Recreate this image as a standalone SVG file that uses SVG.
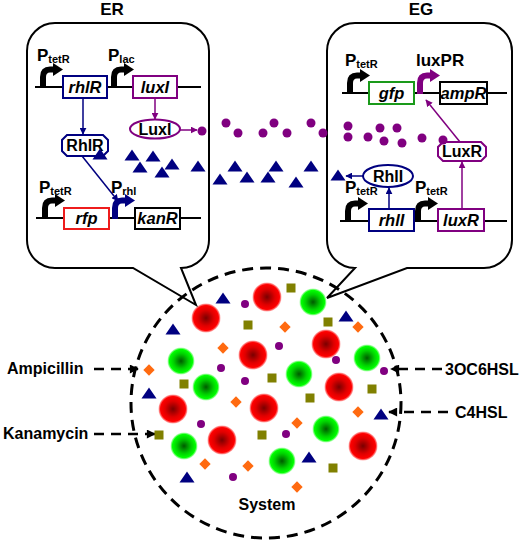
<svg xmlns="http://www.w3.org/2000/svg" width="525" height="544" viewBox="0 0 525 544">
<defs>
<style>
text{font-family:"Liberation Sans",Arial,sans-serif;font-weight:bold;fill:#000}
.gene{font-style:italic;font-size:16.5px;text-anchor:middle}
.prot{font-size:16px;text-anchor:middle}
.ttl{font-size:17px;text-anchor:middle}
.lbl{font-size:16px}
.p{font-size:17px}
.sub{font-size:11px}
.frame{fill:none;stroke:#000;stroke-width:2}
.dna{stroke:#000;stroke-width:2;fill:none}
.box{fill:#fff;stroke-width:2}
.nv{stroke:#000080}
.pu{stroke:#800080}
.rd{stroke:#ee1c1c}
.gn{stroke:#1a9a1a}
.bk{stroke:#000}
.arN{stroke:#000080;stroke-width:1.5;fill:none;marker-end:url(#aN)}
.arP{stroke:#800080;stroke-width:1.5;fill:none;marker-end:url(#aP)}
.dash{stroke:#000;stroke-width:2.5;fill:none;stroke-dasharray:10 7;marker-end:url(#aK)}
.dot{fill:#800080}
.tri{fill:#000080}
.sq{fill:#808000}
.dm{fill:#ff6a10}
.red{fill:url(#gR)}
.grn{fill:url(#gG)}
</style>
<radialGradient id="gR">
<stop offset="0" stop-color="#7a0000"/>
<stop offset="0.55" stop-color="#e00000"/>
<stop offset="0.86" stop-color="#ff0000"/>
<stop offset="1" stop-color="#ff2020" stop-opacity="0.35"/>
</radialGradient>
<radialGradient id="gG">
<stop offset="0" stop-color="#005a00"/>
<stop offset="0.55" stop-color="#00d000"/>
<stop offset="0.86" stop-color="#00ff00"/>
<stop offset="1" stop-color="#40ff40" stop-opacity="0.35"/>
</radialGradient>
<marker id="aN" viewBox="0 0 10 10" refX="9" refY="5" markerWidth="7" markerHeight="7" orient="auto" markerUnits="userSpaceOnUse"><path d="M0,0 L10,5 L0,10 Z" fill="#000080"/></marker>
<marker id="aP" viewBox="0 0 10 10" refX="9" refY="5" markerWidth="7" markerHeight="7" orient="auto" markerUnits="userSpaceOnUse"><path d="M0,0 L10,5 L0,10 Z" fill="#800080"/></marker>
<marker id="aK" viewBox="0 0 10 10" refX="9" refY="5" markerWidth="10" markerHeight="9" orient="auto" markerUnits="userSpaceOnUse"><path d="M0,0 L10,5 L0,10 Z" fill="#000"/></marker>
<g id="prom">
<path d="M3,1 V-10 Q3,-17.5 10,-17.5 H14" fill="none" stroke="currentColor" stroke-width="6"/>
<path d="M13,-24 L23,-17.5 L13,-11 Z" fill="currentColor"/>
</g>
<path id="tr" d="M-7.5,5.5 L0,-5.5 L7.5,5.5 Z"/>
<rect id="sqr" x="-4.5" y="-4.5" width="9" height="9"/>
<rect id="dia" x="-4" y="-4" width="8" height="8" transform="rotate(45)"/>
</defs>

<g id="ER">
<path class="frame" d="M55,23 H181 A28,28 0 0 1 209,51 V240 A28,28 0 0 1 181,268 L196,305 L133,268 H55 A28,28 0 0 1 27,240 V51 A28,28 0 0 1 55,23 Z"/>
<text class="ttl" x="112" y="15">ER</text>
<line class="dna" x1="35" y1="87" x2="201" y2="87"/>
<line class="dna" x1="36" y1="218" x2="201" y2="218"/>
<g id="ER-PtetR-1"><use href="#prom" x="40" y="87" style="color:#000"/><text class="p" x="37" y="61">P<tspan class="sub" dy="2">tetR</tspan></text></g>
<g id="ER-Plac"><use href="#prom" x="111" y="87" style="color:#000"/><text class="p" x="108" y="61">P<tspan class="sub" dy="2">lac</tspan></text></g>
<g id="ER-PtetR-2"><use href="#prom" x="42" y="218" style="color:#000"/><text class="p" x="39" y="193">P<tspan class="sub" dy="2">tetR</tspan></text></g>
<g id="ER-Prhl"><use href="#prom" x="112" y="218" style="color:#000080"/><text class="p" x="111" y="193">P<tspan class="sub" dy="2">rhl</tspan></text></g>
<g id="gene-rhlR"><rect class="box nv" x="63" y="76" width="44" height="22"/><text class="gene" x="85" y="93">rhlR</text></g>
<g id="gene-luxI"><rect class="box pu" x="133" y="76" width="44" height="22"/><text class="gene" x="155" y="93">luxI</text></g>
<g id="gene-rfp"><rect class="box rd" x="64" y="208" width="45" height="21"/><text class="gene" x="86.5" y="224">rfp</text></g>
<g id="gene-kanR"><rect class="box bk" x="135" y="208" width="45" height="21"/><text class="gene" x="157.5" y="224">kanR</text></g>
<g id="prot-RhlR"><path class="box nv" d="M67,135 H103 L108,140 V151 L103,156 H67 L62,151 V140 Z"/><text class="prot" x="85" y="151">RhlR</text></g>
<g id="prot-LuxI"><ellipse class="box pu" cx="155" cy="129" rx="25" ry="9.5"/><text class="prot" x="155" y="135">LuxI</text></g>
</g>

<g id="EG">
<path class="frame" d="M355,23 H484 A28,28 0 0 1 512,51 V240 A28,28 0 0 1 484,268 H407 L327,298 L355,268 A28,28 0 0 1 327,240 V51 A28,28 0 0 1 355,23 Z"/>
<text class="ttl" x="421" y="15">EG</text>
<line class="dna" x1="342" y1="93" x2="507" y2="93"/>
<line class="dna" x1="340" y1="221" x2="507" y2="221"/>
<g id="EG-PtetR-1"><use href="#prom" x="347" y="93" style="color:#000"/><text class="p" x="345" y="66">P<tspan class="sub" dy="2">tetR</tspan></text></g>
<g id="EG-luxPR"><use href="#prom" x="417" y="93" style="color:#800080"/><text class="p" x="416" y="66" font-size="14">luxPR</text></g>
<g id="EG-PtetR-2"><use href="#prom" x="345" y="221" style="color:#000"/><text class="p" x="345" y="193">P<tspan class="sub" dy="2">tetR</tspan></text></g>
<g id="EG-PtetR-3"><use href="#prom" x="415" y="221" style="color:#000"/><text class="p" x="415" y="193">P<tspan class="sub" dy="2">tetR</tspan></text></g>
<g id="gene-gfp"><rect class="box gn" x="369" y="82" width="45" height="22"/><text class="gene" x="391.5" y="99">gfp</text></g>
<g id="gene-ampR"><rect class="box bk" x="440" y="82" width="47" height="22"/><text class="gene" x="463.5" y="99">ampR</text></g>
<g id="gene-rhlI"><rect class="box nv" x="369" y="209" width="45" height="22"/><text class="gene" x="391.5" y="226">rhlI</text></g>
<g id="gene-luxR"><rect class="box pu" x="438" y="209" width="46" height="22"/><text class="gene" x="461" y="226">luxR</text></g>
<g id="prot-LuxR"><path class="box pu" d="M443,142 H481 L486,147 V156 L481,161 H443 L438,156 V147 Z"/><text class="prot" x="462" y="157">LuxR</text></g>
<g id="prot-RhlI"><ellipse class="box nv" cx="388" cy="176" rx="25" ry="11"/><text class="prot" x="388" y="182">RhlI</text></g>
</g>

<g id="signals">
<g class="dot">
<circle cx="202" cy="131" r="4.5"/><circle cx="226" cy="123" r="4.5"/><circle cx="238" cy="133" r="4.5"/><circle cx="263" cy="133" r="4.5"/><circle cx="274" cy="123" r="4.5"/><circle cx="287" cy="133" r="4.5"/><circle cx="311" cy="123" r="4.5"/><circle cx="323" cy="133" r="4.5"/><circle cx="348" cy="126" r="4.5"/><circle cx="348" cy="137" r="4.5"/><circle cx="368" cy="137" r="4.5"/><circle cx="380" cy="128" r="4.5"/><circle cx="397" cy="128" r="4.5"/><circle cx="384" cy="141" r="4.5"/><circle cx="402" cy="143" r="4.5"/><circle cx="422" cy="138" r="4.5"/><circle cx="443" cy="140" r="4.5"/>
</g>
<g class="tri">
<use href="#tr" x="100" y="154"/><use href="#tr" x="132" y="155"/><use href="#tr" x="153" y="156"/><use href="#tr" x="140" y="167"/><use href="#tr" x="172" y="164"/><use href="#tr" x="162" y="172"/><use href="#tr" x="198" y="166"/><use href="#tr" x="235" y="166"/><use href="#tr" x="220" y="179"/><use href="#tr" x="247" y="177"/><use href="#tr" x="276" y="166"/><use href="#tr" x="268" y="177"/><use href="#tr" x="311" y="166"/><use href="#tr" x="296" y="182"/><use href="#tr" x="338" y="175"/>
</g>
</g>

<g id="connectors">
<line class="arN" x1="83" y1="98" x2="83" y2="134"/>
<line class="arP" x1="155" y1="98" x2="155" y2="119"/>
<line class="arP" x1="180" y1="130" x2="197" y2="130"/>
<line class="arN" x1="82" y1="156" x2="118" y2="201"/>
<line class="arP" x1="462" y1="209" x2="462" y2="162"/>
<line class="arP" x1="460" y1="142" x2="426" y2="100"/>
<line class="arN" x1="389" y1="209" x2="389" y2="188"/>
<line class="arN" x1="363" y1="176" x2="346" y2="176"/>
<line class="dash" x1="94" y1="369" x2="138" y2="369"/>
<line class="dash" x1="94" y1="434" x2="155" y2="434"/>
<line class="dash" x1="442" y1="369" x2="391" y2="369"/>
<line class="dash" x1="448" y1="412" x2="389" y2="412"/>
</g>

<g id="System">
<circle cx="266" cy="403" r="135" fill="none" stroke="#000" stroke-width="3" stroke-dasharray="11 7"/>
<g id="red-cells" class="red">
<circle cx="206" cy="318" r="14.5"/><circle cx="267" cy="297" r="14.5"/><circle cx="253" cy="355" r="14.5"/><circle cx="326" cy="344" r="14.5"/><circle cx="339" cy="387" r="14.5"/><circle cx="173" cy="409" r="14.5"/><circle cx="264" cy="408" r="14.5"/><circle cx="222" cy="440" r="14.5"/><circle cx="363" cy="446" r="14.5"/>
</g>
<g id="green-cells" class="grn">
<circle cx="313" cy="302" r="13.5"/><circle cx="181" cy="361" r="13.5"/><circle cx="206" cy="387" r="13.5"/><circle cx="299" cy="374" r="13.5"/><circle cx="367" cy="358" r="13.5"/><circle cx="326" cy="429" r="13.5"/><circle cx="184" cy="446" r="13.5"/><circle cx="282" cy="461" r="13.5"/>
</g>
<g class="tri">
<use href="#tr" x="223" y="298"/><use href="#tr" x="173" y="329"/><use href="#tr" x="346" y="316"/><use href="#tr" x="149" y="393"/><use href="#tr" x="381" y="414"/><use href="#tr" x="309" y="457"/><use href="#tr" x="187" y="477"/>
</g>
<g class="dot">
<circle cx="245" cy="304" r="4"/><circle cx="279" cy="346" r="4"/><circle cx="221" cy="368" r="4"/><circle cx="245" cy="381" r="4"/><circle cx="336" cy="360" r="4"/><circle cx="384" cy="371" r="4"/><circle cx="201" cy="424" r="4"/><circle cx="286" cy="434" r="4"/><circle cx="233" cy="477" r="4"/>
</g>
<g class="sq">
<use href="#sqr" x="291" y="288"/><use href="#sqr" x="248" y="325"/><use href="#sqr" x="328" y="322"/><use href="#sqr" x="184" y="384"/><use href="#sqr" x="272" y="378"/><use href="#sqr" x="372" y="389"/><use href="#sqr" x="310" y="398"/><use href="#sqr" x="159" y="435"/><use href="#sqr" x="262" y="435"/><use href="#sqr" x="333" y="468"/>
</g>
<g class="dm">
<use href="#dia" x="285" y="327"/><use href="#dia" x="358" y="327"/><use href="#dia" x="223" y="348"/><use href="#dia" x="149" y="370"/><use href="#dia" x="236" y="402"/><use href="#dia" x="358" y="412"/><use href="#dia" x="297" y="423"/><use href="#dia" x="205" y="464"/><use href="#dia" x="248" y="466"/><use href="#dia" x="297" y="487"/>
</g>
<text class="lbl" x="267" y="510" text-anchor="middle">System</text>
</g>

<g id="labels">
<text class="lbl" x="7" y="374">Ampicillin</text>
<text class="lbl" x="3" y="439">Kanamycin</text>
<text class="lbl" x="445" y="375">3OC6HSL</text>
<text class="lbl" x="455" y="418">C4HSL</text>
</g>
</svg>
